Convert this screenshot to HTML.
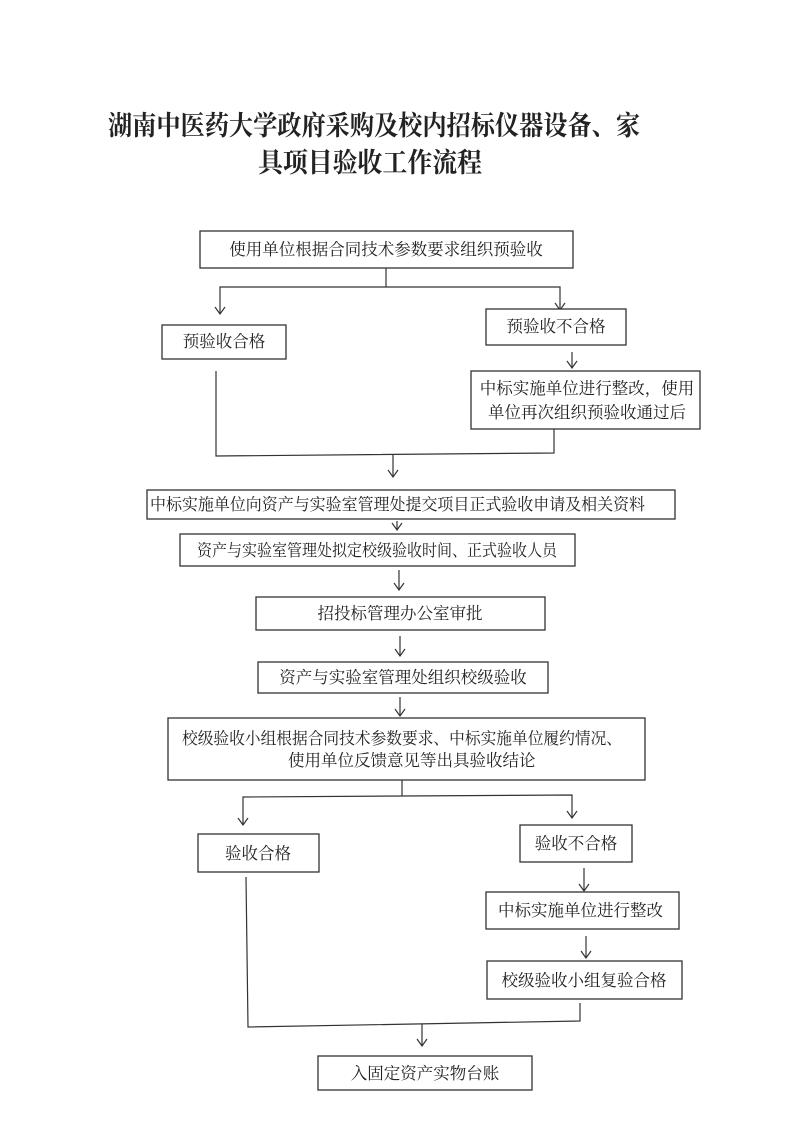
<!DOCTYPE html>
<html><head><meta charset="utf-8"><style>
html,body{margin:0;padding:0;background:#fff;}
svg{display:block;}
text{font-family:"Liberation Serif","Noto Serif CJK SC","Noto Sans CJK SC",serif;fill:#222;}
.t{font-size:16.5px;}
.h{font-size:27px;font-weight:bold;}
rect{fill:#fff;stroke:#333;stroke-width:1.3;}
line,polyline{stroke:#333;stroke-width:1.2;fill:none;}
</style></head><body>
<svg width="795" height="1124" viewBox="0 0 795 1124" xmlns="http://www.w3.org/2000/svg">
<text class="h" x="108" y="135" textLength="532" lengthAdjust="spacingAndGlyphs">湖南中医药大学政府采购及校内招标仪器设备、家</text>
<text class="h" x="258" y="172" textLength="224" lengthAdjust="spacingAndGlyphs">具项目验收工作流程</text>

<rect x="200" y="231" width="373" height="37"/>
<text class="t" x="386" y="255" text-anchor="middle">使用单位根据合同技术参数要求组织预验收</text>
<line x1="386" y1="268" x2="386" y2="287"/>
<polyline points="220,314 220,287 560,287 560,310"/>
<polyline points="215,307 220,314 225,307"/><polyline points="555,303 560,310 565,303"/>

<rect x="162" y="325" width="124" height="34"/>
<text class="t" x="224" y="347" text-anchor="middle">预验收合格</text>
<rect x="486" y="309" width="140" height="36"/>
<text class="t" x="556" y="332" text-anchor="middle">预验收不合格</text>
<line x1="572" y1="352" x2="572" y2="368"/><polyline points="567,361 572,368 577,361"/>
<rect x="471" y="371" width="229" height="58"/>
<text class="t" x="587" y="394" text-anchor="middle">中标实施单位进行整改，使用</text>
<text class="t" x="587" y="418" text-anchor="middle">单位再次组织预验收通过后</text>
<polyline points="216,371 216,456 554,453 554,429"/>
<line x1="393" y1="455" x2="393" y2="477"/><polyline points="388,470 393,477 398,470"/>

<rect x="147" y="490" width="528" height="29"/>
<text class="t" x="150" y="510" textLength="495" lengthAdjust="spacingAndGlyphs">中标实施单位向资产与实验室管理处提交项目正式验收申请及相关资料</text>
<line x1="397" y1="521" x2="397" y2="530"/><polyline points="392,523 397,530 402,523"/>

<rect x="180" y="534" width="395" height="32"/>
<text class="t" x="197" y="556" textLength="360" lengthAdjust="spacingAndGlyphs">资产与实验室管理处拟定校级验收时间、正式验收人员</text>
<line x1="399" y1="570" x2="399" y2="590"/><polyline points="394,583 399,590 404,583"/>

<rect x="256" y="597" width="289" height="33"/>
<text class="t" x="400" y="619" text-anchor="middle">招投标管理办公室审批</text>
<line x1="400" y1="636" x2="400" y2="656"/><polyline points="395,649 400,656 405,649"/>

<rect x="258" y="662" width="290" height="31"/>
<text class="t" x="403" y="683" text-anchor="middle">资产与实验室管理处组织校级验收</text>
<line x1="400" y1="697" x2="400" y2="716"/><polyline points="395,709 400,716 405,709"/>

<rect x="168" y="718" width="477" height="62"/>
<text class="t" x="182" y="744" textLength="440" lengthAdjust="spacingAndGlyphs">校级验收小组根据合同技术参数要求、中标实施单位履约情况、</text>
<text class="t" x="288" y="766">使用单位反馈意见等出具验收结论</text>
<line x1="402" y1="780" x2="402" y2="796"/>
<polyline points="243,825 243,797 572,795 572,818"/>
<polyline points="238,818 243,825 248,818"/><polyline points="567,811 572,818 577,811"/>

<rect x="198" y="834" width="121" height="38"/>
<text class="t" x="258" y="859" text-anchor="middle">验收合格</text>
<rect x="520" y="825" width="112" height="37"/>
<text class="t" x="576" y="849" text-anchor="middle">验收不合格</text>
<line x1="584" y1="868" x2="584" y2="891"/><polyline points="579,884 584,891 589,884"/>
<rect x="486" y="892" width="193" height="37"/>
<text class="t" x="498" y="916">中标实施单位进行整改</text>
<line x1="586" y1="936" x2="586" y2="958"/><polyline points="581,951 586,958 591,951"/>
<rect x="487" y="961" width="195" height="38"/>
<text class="t" x="584" y="986" text-anchor="middle">校级验收小组复验合格</text>

<polyline points="246,877 248,1027 580,1021 580,1003"/>
<line x1="422" y1="1024" x2="422" y2="1046"/><polyline points="417,1039 422,1046 427,1039"/>
<rect x="318" y="1056" width="214" height="34"/>
<text class="t" x="425" y="1079" text-anchor="middle">入固定资产实物台账</text>
</svg>
</body></html>
